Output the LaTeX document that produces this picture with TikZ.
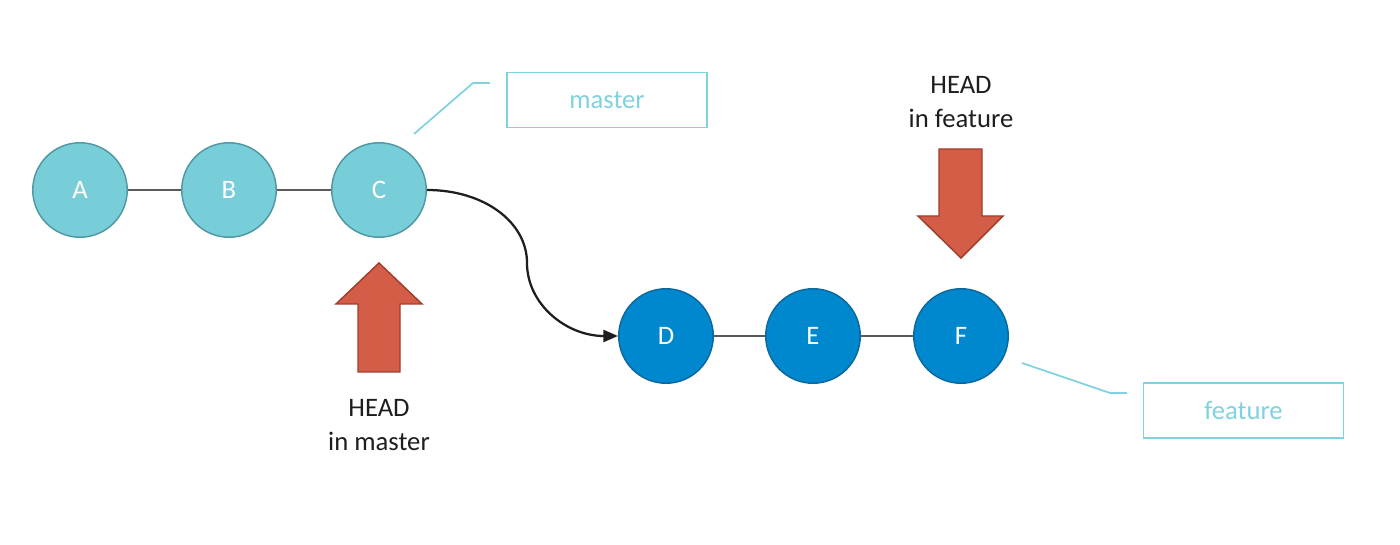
\documentclass[tikz,border=0pt]{standalone}
\usepackage{fontspec}
\setmainfont{Carlito}
\usetikzlibrary{arrows.meta}
\definecolor{lightfill}{RGB}{119,205,216}
\definecolor{lightdraw}{RGB}{80,152,162}
\definecolor{darkfill}{RGB}{0,136,206}
\definecolor{darkdraw}{RGB}{12,104,158}
\definecolor{linegray}{RGB}{90,90,90}
\definecolor{labelcol}{RGB}{128,210,222}
\definecolor{arrowfill}{RGB}{212,93,71}
\definecolor{arrowdraw}{RGB}{160,62,45}
\definecolor{txt}{RGB}{30,30,30}
\begin{document}
\begin{tikzpicture}[x=0.75pt,y=-0.75pt,
  every node/.style={font=\fontsize{20}{24}\selectfont},
  commitlight/.style={circle,minimum size=94.5*0.75pt,inner sep=0pt,fill=lightfill,draw=lightdraw,line width=1.1pt,text=white},
  commitdark/.style={circle,minimum size=94.5*0.75pt,inner sep=0pt,fill=darkfill,draw=darkdraw,line width=1.1pt,text=white},
  link/.style={draw=linegray,line width=1.4pt},
  branchbox/.style={draw=labelcol,line width=1.3pt,text=labelcol,minimum width=200*0.75pt,minimum height=55*0.75pt,inner sep=0pt},
  leader/.style={draw=labelcol,line width=1.3pt},
  headarrow/.style={fill=arrowfill,draw=arrowdraw,line width=1.1pt,line join=miter},
  headtext/.style={text=txt,align=center,font=\fontsize{20}{25}\selectfont}
]
\useasboundingbox (0,0) rectangle (1400,545);

\node[commitlight] (A) at (80,190) {A};
\node[commitlight] (B) at (229,190) {B};
\node[commitlight] (C) at (379,190) {C};
\node[commitdark] (D) at (666,336) {D};
\node[commitdark] (E) at (813,336) {E};
\node[commitdark] (F) at (961,336) {F};

\draw[link] (A) -- (B);
\draw[link] (B) -- (C);
\draw[link] (D) -- (E);
\draw[link] (E) -- (F);

\coordinate (mid) at (527,263);
\draw[line width=1.7pt,draw=txt,-{Triangle[length=11pt,width=9pt]}]
  (C.east) .. controls (484,190) and (527,222) .. (mid)
  .. controls (527,304) and (566,336) .. (D.west);

\node[branchbox] (master) at (607,100) {master};
\node[branchbox] (feature) at (1243.5,410.5) {feature};
\coordinate (m1) at (414,134);
\coordinate (m2) at (473,83);
\coordinate (m3) at (490,83);
\draw[leader] (m1) -- (m2) -- (m3);
\coordinate (f1) at (1022,363);
\coordinate (f2) at (1110,393);
\coordinate (f3) at (1127,393);
\draw[leader] (f1) -- (f2) -- (f3);

% up arrow under C
\draw[headarrow] (379,263) -- (422,304) -- (400,304) -- (400,372) -- (358,372) -- (358,304) -- (336,304) -- cycle;
% down arrow above F
\draw[headarrow] (939,149) -- (982,149) -- (982,216) -- (1003,216) -- (961,258) -- (918,216) -- (939,216) -- cycle;

\node[headtext] (hm) at (379,425) {HEAD\\in master};
\node[headtext] (hf) at (961,102) {HEAD\\in feature};
\end{tikzpicture}
\end{document}
